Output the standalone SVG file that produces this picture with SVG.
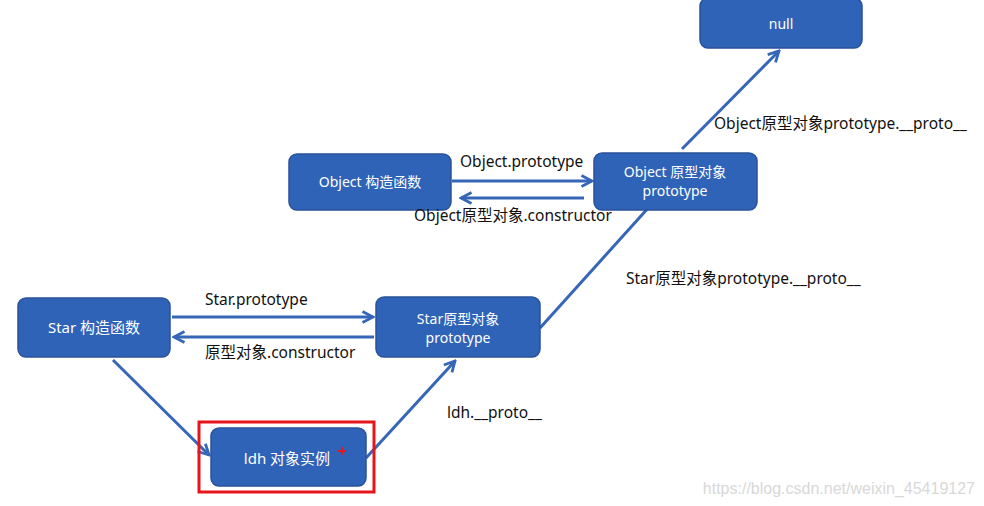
<svg xmlns="http://www.w3.org/2000/svg" width="984" height="506" viewBox="0 0 984 506">
<defs>
<style>
.box{fill:#2f63b8;stroke:#2a5298;stroke-width:1.5}
.bt{fill:#ffffff;font-family:"Noto Sans","Noto Sans CJK SC",sans-serif;font-size:14px;text-anchor:middle}
.bl{font-size:15px}
.lbl{fill:#111111;font-family:"Noto Sans","Noto Sans CJK SC",sans-serif;font-size:15.5px}
.ln{stroke:#3566b8;stroke-width:3;fill:none}
</style>
<marker id="ah" viewBox="0 0 14 14" refX="12" refY="7" markerWidth="14" markerHeight="14" markerUnits="userSpaceOnUse" orient="auto">
<path d="M1.5,1.5 L12,7 L1.5,12.5" fill="none" stroke="#3566b8" stroke-width="2.8"/>
</marker>
</defs>
<rect width="984" height="506" fill="#ffffff"/>
<g id="connectors">
<line class="ln" x1="452" y1="181" x2="592" y2="181" marker-end="url(#ah)"/>
<line class="ln" x1="584" y1="198" x2="461" y2="198" marker-end="url(#ah)"/>
<line class="ln" x1="172" y1="317" x2="373" y2="317" marker-end="url(#ah)"/>
<line class="ln" x1="374" y1="337" x2="174" y2="337" marker-end="url(#ah)"/>
<line class="ln" x1="113" y1="360" x2="209" y2="455" marker-end="url(#ah)"/>
<line class="ln" x1="366" y1="458" x2="455" y2="361" marker-end="url(#ah)"/>
<line class="ln" x1="540" y1="328" x2="668" y2="186" marker-end="url(#ah)"/>
<line class="ln" x1="682" y1="149" x2="779" y2="51" marker-end="url(#ah)"/>
</g>
<g id="null">
<rect class="box" x="700" y="-2" width="162" height="50" rx="8"/>
<text class="bt" x="781" y="29">null</text>
</g>
<g id="object-ctor">
<rect class="box" x="289" y="154" width="162" height="56" rx="8"/>
<text class="bt" x="370" y="187">Object 构造函数</text>
</g>
<g id="object-proto">
<rect class="box" x="594" y="153" width="163" height="57" rx="8"/>
<text class="bt" x="675" y="177">Object 原型对象</text>
<text class="bt" x="675" y="196">prototype</text>
</g>
<g id="star-ctor">
<rect class="box" x="18" y="298" width="152" height="59" rx="8"/>
<text class="bt bl" x="94" y="333">Star 构造函数</text>
</g>
<g id="star-proto">
<rect class="box" x="376" y="297" width="164" height="60" rx="8"/>
<text class="bt" x="458" y="324">Star原型对象</text>
<text class="bt" x="458" y="343">prototype</text>
</g>
<g id="ldh">
<rect class="box" x="211" y="428" width="155" height="58" rx="8"/>
<text class="bt bl" x="287" y="464">ldh 对象实例</text>
<rect x="199" y="422" width="175" height="70" fill="none" stroke="#e8141b" stroke-width="3"/>
<path d="M338,451 h8 M342,447 v8" stroke="#e8141b" stroke-width="1.8"/>
</g>
<g id="labels">
<text class="lbl" x="460" y="167">Object.prototype</text>
<text class="lbl" x="414" y="221">Object原型对象.constructor</text>
<text class="lbl" x="205" y="305">Star.prototype</text>
<text class="lbl" x="205" y="358">原型对象.constructor</text>
<text class="lbl" x="714" y="129">Object原型对象prototype.__proto__</text>
<text class="lbl" x="626" y="284">Star原型对象prototype.__proto__</text>
<text class="lbl" x="447" y="418">ldh.__proto__</text>
</g>
<text x="975" y="494" text-anchor="end" fill="#d8d8d8" font-family="Liberation Sans, sans-serif" font-size="16px">https://blog.csdn.net/weixin_45419127</text>
</svg>
